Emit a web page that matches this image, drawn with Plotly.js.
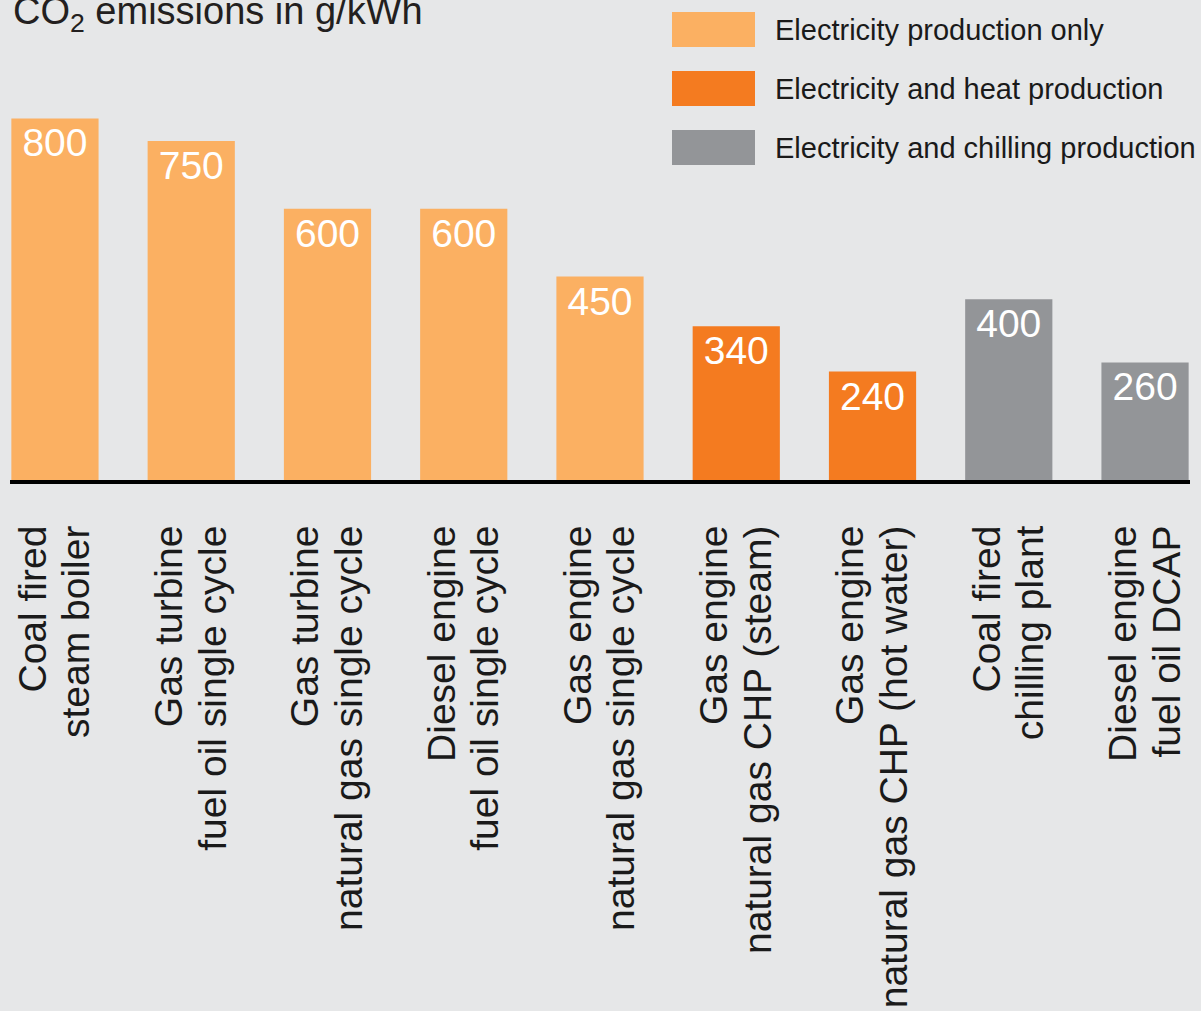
<!DOCTYPE html>
<html>
<head>
<meta charset="utf-8">
<script src="https://cdn.plot.ly/plotly-3.0.1.min.js"></script>
<style>html,body{margin:0;padding:0;background:#E6E7E8;}#chart{width:1201px;height:1011px;}</style>
</head>
<body>
<div id="chart"></div>
<script>
// ---- data ----
const labelLine1 = ["Coal fired", "Gas turbine", "Gas turbine", "Diesel engine", "Gas engine", "Gas engine", "Gas engine", "Coal fired", "Diesel engine"];
const labelLine2 = ["steam boiler", "fuel oil single cycle", "natural gas single cycle", "fuel oil single cycle", "natural gas single cycle", "natural gas CHP (steam)", "natural gas CHP (hot water)", "chilling plant", "fuel oil DCAP"];
const emissions = [800, 750, 600, 600, 450, 340, 240, 400, 260];
const groupIndex = [0, 0, 0, 0, 0, 1, 1, 2, 2];
const groupNames = ["Electricity production only", "Electricity and heat production", "Electricity and chilling production"];
const groupColors = ["#FBB062", "#F47B20", "#939598"];
const chartTitle = "CO<sub>2</sub> emissions in g/kWh";

// ---- layout helpers ----
const FONT = "'Liberation Sans', Arial, sans-serif";
const W = 1201, H = 1011;
const mL = 10, mR = 11, mT = 0, mB = 531;
const plotW = W - mL - mR, plotH = H - mT - mB;
const lineOff = 0.16;

const xs = emissions.map((_, i) => i);
const tickvals = [], ticktext = [];
labelLine1.forEach((l, i) => {
  tickvals.push(i - lineOff); ticktext.push(l);
  tickvals.push(i + lineOff); ticktext.push(labelLine2[i]);
});

const trace = {
  type: 'bar',
  x: xs,
  y: emissions,
  width: 0.64,
  marker: { color: groupIndex.map(g => groupColors[g]), line: { width: 0 } },
  text: emissions.map(String),
  textposition: 'inside',
  insidetextanchor: 'end',
  textangle: 0,
  textfont: { family: FONT, size: 39, color: '#FFFFFF' },
  hoverinfo: 'x+y',
  showlegend: false
};

const px2x = p => (p - mL) / plotW;
const px2y = p => 1 - (p - mT) / plotH;

const shapes = [], annotations = [];
groupNames.forEach((name, i) => {
  const top = 12 + i * 59;
  shapes.push({
    type: 'rect', xref: 'paper', yref: 'paper',
    x0: px2x(672), x1: px2x(755), y0: px2y(top + 35), y1: px2y(top),
    fillcolor: groupColors[i], line: { width: 0 }
  });
  annotations.push({
    xref: 'paper', yref: 'paper', x: px2x(773), y: px2y(top + 18),
    xanchor: 'left', yanchor: 'middle', showarrow: false,
    text: name, font: { family: FONT, size: 29, color: '#1A1A1A' }
  });
});
annotations.push({
  xref: 'paper', yref: 'paper', x: px2x(11), y: px2y(40),
  xanchor: 'left', yanchor: 'bottom', showarrow: false,
  text: chartTitle, font: { family: FONT, size: 38, color: '#231F20' }
});

const layout = {
  width: W, height: H,
  margin: { l: mL, r: mR, t: mT, b: mB, pad: 0 },
  paper_bgcolor: '#E6E7E8',
  plot_bgcolor: '#E6E7E8',
  showlegend: false,
  bargap: 0.36,
  xaxis: {
    type: 'linear',
    range: [-0.330, 8.330],
    tickmode: 'array', tickvals: tickvals, ticktext: ticktext,
    tickangle: -90, ticks: '', ticklabelstandoff: 26,
    tickfont: { family: FONT, size: 39, color: '#1A1A1A' },
    showline: true, linecolor: '#000000', linewidth: 4,
    showgrid: false, zeroline: false, fixedrange: true
  },
  yaxis: {
    range: [0, 1062],
    showticklabels: false, showgrid: false, zeroline: false,
    showline: false, ticks: '', fixedrange: true
  },
  shapes: shapes,
  annotations: annotations
};

Plotly.newPlot('chart', [trace], layout, { displayModeBar: false, staticPlot: true });
</script>
</body>
</html>
